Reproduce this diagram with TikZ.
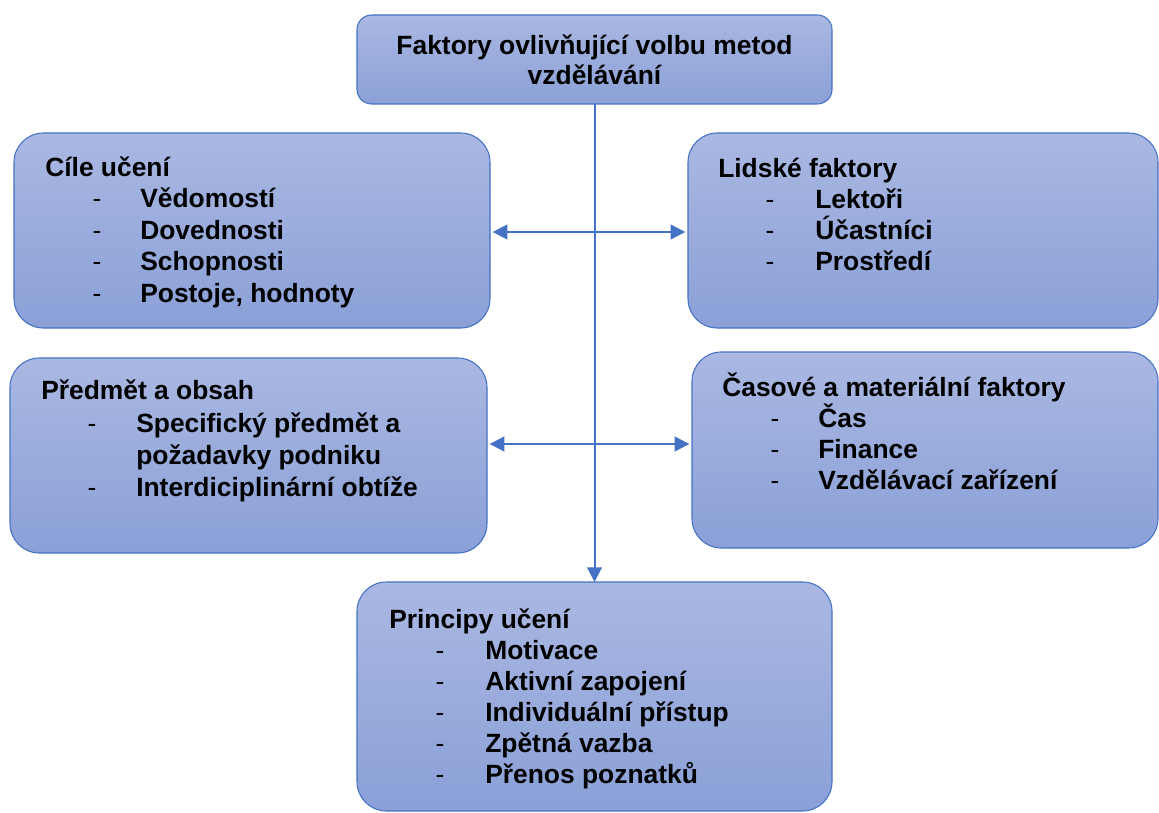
\documentclass[tikz,border=0pt]{standalone}
\usepackage{fontspec}
\setmainfont{Liberation Sans}
\usetikzlibrary{arrows.meta}
\definecolor{boxtop}{RGB}{170,184,226}
\definecolor{boxbot}{RGB}{138,160,215}
\definecolor{boxline}{RGB}{68,114,196}
\begin{document}
\begin{tikzpicture}[x=0.75pt,y=-0.75pt,
  box/.style={draw=boxline,line width=0.8pt,top color=boxtop,bottom color=boxbot,
    rounded corners=22pt,inner sep=0pt,outer sep=0pt},
  txt/.style={anchor=base west,inner sep=0pt,font=\fontsize{19.8}{23}\selectfont\bfseries},
  dsh/.style={anchor=base,inner sep=0pt,font=\fontsize{19.8}{23}\selectfont},
  ctr/.style={anchor=base,inner sep=0pt,font=\fontsize{19.8}{23}\selectfont\bfseries},
  arr/.style={draw=boxline,line width=1.5pt,-{Triangle[length=11pt,width=11pt]}},
  darr/.style={draw=boxline,line width=1.5pt,{Triangle[length=11pt,width=11pt]}-{Triangle[length=11pt,width=11pt]},shorten <=2pt,shorten >=2pt}]
\useasboundingbox (0,0) rectangle (1159,813);
% boxes
\node[box,rounded corners=11pt,minimum width=356.25pt,minimum height=66.75pt] (top) at (594.5,59.5) {};
\node[box,minimum width=357pt,minimum height=146.25pt] (cile) at (252,230.5) {};
\node[box,minimum width=352.5pt,minimum height=146.25pt] (lidske) at (923,230.5) {};
\node[box,minimum width=357.75pt,minimum height=146.25pt] (predmet) at (248.5,455.5) {};
\node[box,minimum width=349.5pt,minimum height=147pt] (casove) at (925,450) {};
\node[box,minimum width=356.25pt,minimum height=171.75pt] (principy) at (594.5,696.5) {};
% connectors
\draw[arr] (top.south) -- (principy.north);
\draw[darr] (cile.east |- 0,232) -- (lidske.west |- 0,232);
\draw[darr] (predmet.east |- 0,444) -- (casove.west |- 0,444);
% top text
\node[ctr] (t1) at (594.5,55) {Faktory ovlivňující volbu metod};
\node[ctr] (t2) at (594.5,85) {vzdělávání};
% Cíle učení
\node[txt] (c0) at (45,176) {Cíle učení};
\node[dsh] (cd1) at (97,207) {-};
\node[txt] (c1) at (140,207) {Vědomostí};
\node[dsh] (cd2) at (97,239) {-};
\node[txt] (c2) at (140,239) {Dovednosti};
\node[dsh] (cd3) at (97,270) {-};
\node[txt] (c3) at (140,270) {Schopnosti};
\node[dsh] (cd4) at (97,302) {-};
\node[txt] (c4) at (140,302) {Postoje, hodnoty};
% Lidské faktory
\node[txt] (l0) at (718,177) {Lidské faktory};
\node[dsh] (ld1) at (770,208) {-};
\node[txt] (l1) at (815,208) {Lektoři};
\node[dsh] (ld2) at (770,239) {-};
\node[txt] (l2) at (815,239) {Účastníci};
\node[dsh] (ld3) at (770,270) {-};
\node[txt] (l3) at (815,270) {Prostředí};
% Předmět a obsah
\node[txt] (p0) at (41,399) {Předmět a obsah};
\node[dsh] (pd1) at (92,432) {-};
\node[txt] (p1) at (136,432) {Specifický předmět a};
\node[txt] (p1b) at (136,464) {požadavky podniku};
\node[dsh] (pd2) at (92,496) {-};
\node[txt] (p2) at (136,496) {Interdiciplinární obtíže};
% Časové a materiální faktory
\node[txt] (m0) at (722,396) {Časové a materiální faktory};
\node[dsh] (md1) at (775,427) {-};
\node[txt] (m1) at (818,427) {Čas};
\node[dsh] (md2) at (775,458) {-};
\node[txt] (m2) at (818,458) {Finance};
\node[dsh] (md3) at (775,489) {-};
\node[txt] (m3) at (818,489) {Vzdělávací zařízení};
% Principy učení
\node[txt] (u0) at (389,628) {Principy učení};
\node[dsh] (ud1) at (440,659) {-};
\node[txt] (u1) at (485,659) {Motivace};
\node[dsh] (ud2) at (440,690) {-};
\node[txt] (u2) at (485,690) {Aktivní zapojení};
\node[dsh] (ud3) at (440,721) {-};
\node[txt] (u3) at (485,721) {Individuální přístup};
\node[dsh] (ud4) at (440,752) {-};
\node[txt] (u4) at (485,752) {Zpětná vazba};
\node[dsh] (ud5) at (440,783) {-};
\node[txt] (u5) at (485,783) {Přenos poznatků};
\end{tikzpicture}
\end{document}
